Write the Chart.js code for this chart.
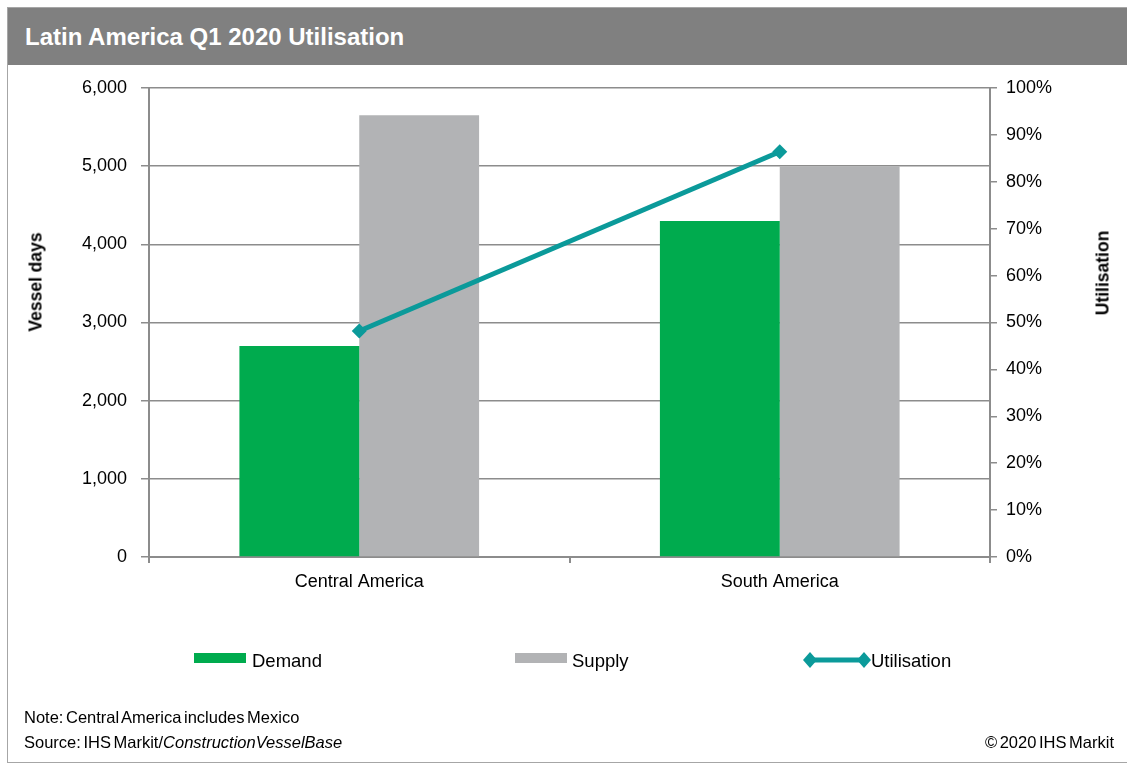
<!DOCTYPE html>
<html>
<head>
<meta charset="utf-8">
<script src="https://cdn.jsdelivr.net/npm/chart.js@4"></script>
<style>
  html, body { margin: 0; padding: 0; background: #fff; }
  body { width: 1127px; height: 766px; position: relative; overflow: hidden; font-family: "Liberation Sans", Arial, sans-serif; }
  #frame { position: absolute; left: 7px; top: 7px; width: 1130px; height: 756px; border: 1px solid #a6a6a6; box-sizing: border-box; }
  #titlebar { position: absolute; left: 8px; top: 8px; width: 1119px; height: 57px; background: #808080; }
  #title { position: absolute; left: 25px; top: 23px; color: #fff; font-weight: bold; font-size: 24px; line-height: 28px; white-space: nowrap; }
  #chartwrap { position: absolute; left: 0; top: 0; width: 1127px; height: 766px; }
  .ytitle { position: absolute; font-weight: bold; font-size: 17.5px; color: #000; white-space: nowrap; transform: translate(-50%, -50%) rotate(-90deg); }
  .leg { position: absolute; font-size: 18.5px; color: #000; white-space: nowrap; line-height: 20px; }
  .sw { position: absolute; height: 10px; width: 52px; }
  .note { position: absolute; font-size: 16.5px; color: #000; white-space: nowrap; line-height: 18px; word-spacing: -2px; }
</style>
</head>
<body>
<div id="chartwrap"><canvas id="c" width="1127" height="766"></canvas></div>
<div id="frame"></div>
<div id="titlebar"></div>
<div id="title">Latin America Q1 2020 Utilisation</div>
<div class="ytitle" style="left:36px; top:282px;">Vessel days</div>
<div class="ytitle" style="left:1103px; top:273px;">Utilisation</div>

<div class="sw" style="left:194px; top:653px; background:#00ab4e;"></div>
<div class="leg" style="left:252px; top:651px;">Demand</div>
<div class="sw" style="left:515px; top:653px; background:#b2b3b5;"></div>
<div class="leg" style="left:572px; top:651px;">Supply</div>
<svg style="position:absolute; left:802px; top:650px;" width="72" height="20">
  <line x1="8" y1="10" x2="62" y2="10" stroke="#0b9a9a" stroke-width="5"/>
  <polygon points="1,10 8,2 15,10 8,18" fill="#0b9a9a"/>
  <polygon points="55,10 62,2 69,10 62,18" fill="#0b9a9a"/>
</svg>
<div class="leg" style="left:871px; top:651px;">Utilisation</div>

<div class="note" style="left:24px; top:708px;">Note: Central America includes Mexico</div>
<div class="note" style="left:24px; top:733px;">Source: IHS Markit/<i>ConstructionVesselBase</i></div>
<div class="note" style="right:13px; top:733px;">© 2020 IHS Markit</div>

<script>
const categories = ["Central America", "South America"];
const demand = [2700, 4300];
const supply = [5650, 5000];
const utilisation = [48.2, 86.4];
const leftTicks = [0, 1000, 2000, 3000, 4000, 5000, 6000];
const rightTicks = [0, 10, 20, 30, 40, 50, 60, 70, 80, 90, 100];

const axisGray = '#8c8c8c';
const tickFont = { family: '"Liberation Sans", Arial, sans-serif', size: 18 };

new Chart(document.getElementById('c'), {
  data: {
    labels: categories,
    datasets: [
      { type: 'line', label: 'Utilisation', data: utilisation, yAxisID: 'y1',
        borderColor: '#0b9a9a', backgroundColor: '#0b9a9a', borderWidth: 5,
        pointStyle: 'rectRot', pointRadius: 7.5, pointHoverRadius: 7.5, pointBorderWidth: 0, order: 0 },
      { type: 'bar', label: 'Demand', data: demand, yAxisID: 'y', backgroundColor: '#00ab4e',
        categoryPercentage: 0.57, barPercentage: 1.0, order: 1 },
      { type: 'bar', label: 'Supply', data: supply, yAxisID: 'y', backgroundColor: '#b2b3b5',
        categoryPercentage: 0.57, barPercentage: 1.0, order: 1 }
    ]
  },
  options: {
    responsive: false,
    animation: false,
    layout: { padding: { left: 0, right: 0, top: 88, bottom: 169 } },
    plugins: { legend: { display: false }, tooltip: { enabled: false }, title: { display: false } },
    scales: {
      x: {
        offset: true,
        grid: { offset: true, drawOnChartArea: false, drawTicks: true, tickLength: 6, color: axisGray, lineWidth: 2 },
        border: { display: true, color: axisGray, width: 2 },
        ticks: { font: tickFont, color: '#000', padding: 8, maxRotation: 0 },
        afterFit: (s) => { s.height = 40; }
      },
      y: {
        position: 'left', min: 0, max: 6000,
        afterBuildTicks: (s) => { s.ticks = leftTicks.map(v => ({ value: v })); },
        grid: { color: axisGray, lineWidth: 1.5, tickLength: 8, drawTicks: true },
        border: { display: true, color: axisGray, width: 2 },
        ticks: { font: tickFont, color: '#000', padding: 14,
          callback: (v) => v.toLocaleString('en-US') },
        afterFit: (s) => { s.width = 149; }
      },
      y1: {
        position: 'right', min: 0, max: 100,
        afterBuildTicks: (s) => { s.ticks = rightTicks.map(v => ({ value: v })); },
        grid: { drawOnChartArea: false, color: axisGray, lineWidth: 1.5, tickLength: 7, drawTicks: true },
        border: { display: true, color: axisGray, width: 2 },
        ticks: { font: tickFont, color: '#000', padding: 9, callback: (v) => v + '%' },
        afterFit: (s) => { s.width = 137; }
      }
    }
  }
});
</script>
</body>
</html>
